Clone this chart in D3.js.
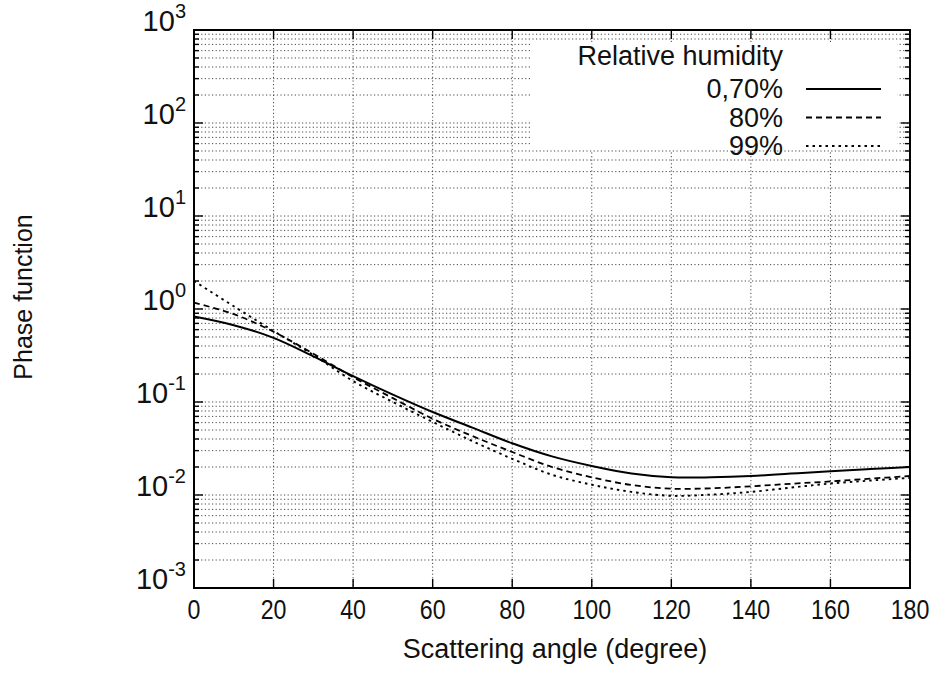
<!DOCTYPE html>
<html>
<head>
<meta charset="utf-8">
<script src="https://cdn.jsdelivr.net/npm/d3@7"></script>
<style>
  body { margin: 0; background: #fff; }
  text { font-family: "Liberation Sans", Arial, sans-serif; fill: #111; }
</style>
</head>
<body>
<svg id="chart" width="937" height="680"></svg>
<script>
// scattering angle (degree)
var angles = [0, 10, 20, 30, 40, 50, 60, 70, 80, 90, 100, 110, 120, 130, 140, 150, 160, 170, 180];
// phase function for each relative humidity
var rh70 = [0.83, 0.67, 0.49, 0.31, 0.19, 0.12, 0.078, 0.053, 0.036, 0.026, 0.0205, 0.017, 0.0155, 0.0155, 0.016, 0.017, 0.018, 0.019, 0.02];
var rh80 = [1.17, 0.88, 0.57, 0.33, 0.185, 0.11, 0.066, 0.043, 0.029, 0.02, 0.0155, 0.0128, 0.0117, 0.0118, 0.0124, 0.0132, 0.014, 0.015, 0.016];
var rh99 = [2.0, 1.07, 0.58, 0.32, 0.168, 0.1, 0.061, 0.038, 0.0245, 0.0165, 0.0129, 0.0108, 0.0098, 0.0101, 0.0108, 0.012, 0.0133, 0.0143, 0.0153];

var xTicks = [0, 20, 40, 60, 80, 100, 120, 140, 160, 180];
var yExps = [-3, -2, -1, 0, 1, 2, 3];
var legendTitle = "Relative humidity";
var seriesNames = ["0,70%", "80%", "99%"];

var svg = d3.select("#chart"),
    plotL = 194, plotR = 910, plotT = 30, plotB = 588;

var x = d3.scaleLinear().domain([0, 180]).range([plotL, plotR]);
var y = d3.scaleLog().domain([1e-3, 1e3]).range([plotB, plotT]);

// minor values 2..9 for each decade
var minorVals = [];
for (var k = -3; k < 3; k++) {
    for (var m = 2; m <= 9; m++) minorVals.push(m * Math.pow(10, k));
}
var majorVals = yExps.map(function (e) { return Math.pow(10, e); });

var grid = svg.append("g")
    .attr("stroke", "#333")
    .attr("stroke-width", 0.9)
    .attr("stroke-dasharray", "1.2,2.4");

grid.selectAll("line.h")
    .data(minorVals.concat(majorVals.slice(1, -1)))
    .enter().append("line")
    .attr("x1", plotL).attr("x2", plotR)
    .attr("y1", function (d) { return y(d); })
    .attr("y2", function (d) { return y(d); });

grid.selectAll("line.v")
    .data(xTicks.slice(1, -1))
    .enter().append("line")
    .attr("y1", plotT).attr("y2", plotB)
    .attr("x1", function (d) { return x(d); })
    .attr("x2", function (d) { return x(d); });

// white key area hides the grid
svg.append("rect")
    .attr("x", 530).attr("y", 42)
    .attr("width", 367).attr("height", 108)
    .attr("fill", "#fff");

// ticks on all four sides
var ticks = svg.append("g").attr("stroke", "#000").attr("stroke-width", 1.4);
function yTick(v, len) {
    ticks.append("line").attr("x1", plotL).attr("x2", plotL + len).attr("y1", y(v)).attr("y2", y(v));
    ticks.append("line").attr("x1", plotR).attr("x2", plotR - len).attr("y1", y(v)).attr("y2", y(v));
}
minorVals.forEach(function (v) { yTick(v, 5); });
majorVals.forEach(function (v) { yTick(v, 9); });
xTicks.forEach(function (v) {
    ticks.append("line").attr("x1", x(v)).attr("x2", x(v)).attr("y1", plotB).attr("y2", plotB - 9);
    ticks.append("line").attr("x1", x(v)).attr("x2", x(v)).attr("y1", plotT).attr("y2", plotT + 9);
});

// curves
var line = d3.line()
    .x(function (d) { return x(d[0]); })
    .y(function (d) { return y(d[1]); })
    .curve(d3.curveCatmullRom);

var series = [
    { vals: rh70, dash: null, w: 2.0 },
    { vals: rh80, dash: "6,4", w: 1.8 },
    { vals: rh99, dash: "2.5,4", w: 1.9 }
];

series.forEach(function (s) {
    svg.append("path")
        .datum(angles.map(function (a, i) { return [a, s.vals[i]]; }))
        .attr("d", line)
        .attr("fill", "none")
        .attr("stroke", "#000")
        .attr("stroke-width", s.w)
        .attr("stroke-dasharray", s.dash);
});

// frame
svg.append("rect")
    .attr("x", plotL).attr("y", plotT)
    .attr("width", plotR - plotL).attr("height", plotB - plotT)
    .attr("fill", "none").attr("stroke", "#000").attr("stroke-width", 2);

// x tick labels (narrow, tall digits as in the scan)
svg.selectAll("text.xt")
    .data(xTicks)
    .enter().append("text")
    .attr("transform", function (d) { return "translate(" + x(d) + "," + (plotB + 31) + ") scale(0.86,1)"; })
    .attr("text-anchor", "middle")
    .attr("font-size", 27)
    .text(function (d) { return d; });

// y tick labels 10^n
yExps.forEach(function (e) {
    var t = svg.append("text")
        .attr("x", plotL - 8)
        .attr("y", y(Math.pow(10, e)) + 1)
        .attr("text-anchor", "end")
        .attr("font-size", 29);
    t.append("tspan").text("10");
    t.append("tspan").attr("font-size", 20).attr("dy", -13).text(e);
});

svg.append("text")
    .attr("x", (plotL + plotR) / 2 + 3)
    .attr("y", 658)
    .attr("text-anchor", "middle")
    .attr("font-size", 27)
    .text("Scattering angle (degree)");

svg.append("text")
    .attr("transform", "translate(32,297) rotate(-90)")
    .attr("text-anchor", "middle")
    .attr("font-size", 25)
    .text("Phase function");

// key
svg.append("text")
    .attr("x", 783).attr("y", 65)
    .attr("text-anchor", "end")
    .attr("font-size", 27)
    .text(legendTitle);

seriesNames.forEach(function (name, i) {
    var ly = 89 + i * 28.5;
    svg.append("text")
        .attr("x", 783).attr("y", ly + 9)
        .attr("text-anchor", "end")
        .attr("font-size", 27)
        .text(name);
    svg.append("line")
        .attr("x1", 806).attr("x2", 881)
        .attr("y1", ly).attr("y2", ly)
        .attr("stroke", "#000")
        .attr("stroke-width", series[i].w)
        .attr("stroke-dasharray", series[i].dash);
});
</script>
</body>
</html>
